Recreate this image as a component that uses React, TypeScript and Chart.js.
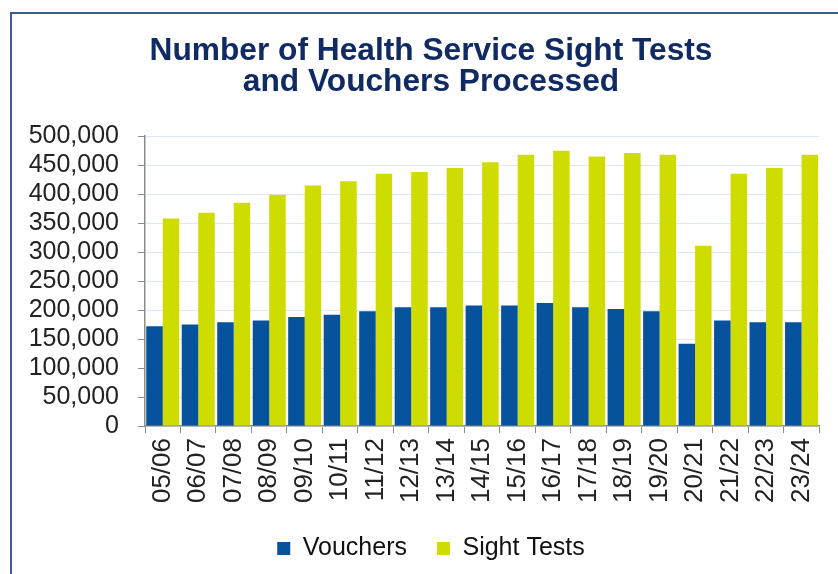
import React, { useEffect, useRef } from "react";
import { Chart, registerables } from "chart.js";

Chart.register(...registerables);

const categories = [
  "05/06", "06/07", "07/08", "08/09", "09/10", "10/11", "11/12", "12/13", "13/14", "14/15",
  "15/16", "16/17", "17/18", "18/19", "19/20", "20/21", "21/22", "22/23", "23/24",
];

const vouchers = [
  172000, 175000, 179000, 182000, 188000, 192000, 198000, 205000, 205000, 208000,
  208000, 212000, 205000, 202000, 198000, 142000, 182000, 179000, 179000,
];

const sightTests = [
  358000, 368000, 385000, 399000, 415000, 422000, 435000, 438000, 445000, 455000,
  468000, 475000, 465000, 471000, 468000, 311000, 435000, 445000, 468000,
];

const titleLines = ["Number of Health Service Sight Tests", "and Vouchers Processed"];
const seriesNames = ["Vouchers", "Sight Tests"];

export default function App() {
  const ref = useRef<HTMLCanvasElement | null>(null);

  useEffect(() => {
    if (!ref.current) return;
    const font = "'Liberation Sans', Arial, sans-serif";
    const chart = new Chart(ref.current, {
      type: "bar",
      data: {
        labels: categories,
        datasets: [
          {
            label: seriesNames[0],
            data: vouchers,
            backgroundColor: "#06529c",
            categoryPercentage: 0.93,
            barPercentage: 1,
          },
          {
            label: seriesNames[1],
            data: sightTests,
            backgroundColor: "#cfdc00",
            categoryPercentage: 0.93,
            barPercentage: 1,
          },
        ],
      },
      options: {
        responsive: false,
        animation: false,
        layout: { padding: { left: 24, right: 0, top: 0, bottom: 0 } },
        plugins: {
          title: {
            display: true,
            text: titleLines,
            color: "#102a63",
            font: { family: font, size: 31.7, weight: "bold", lineHeight: 0.98 },
            padding: { top: 36, bottom: 38 },
          },
          legend: {
            position: "bottom",
            labels: {
              color: "#111111",
              font: { family: font, size: 25 },
              boxWidth: 13,
              boxHeight: 13,
              padding: 30,
            },
          },
          tooltip: { enabled: false },
        },
        scales: {
          x: {
            afterFit: (scale: any) => {
              scale.height = 80;
            },
            grid: {
              drawOnChartArea: false,
              drawTicks: true,
              tickLength: 7,
              tickColor: "#8c8c8c",
              offset: true,
            },
            border: { color: "#8c8c8c", width: 1.5 },
            ticks: {
              color: "#222222",
              font: { family: font, size: 26 },
              maxRotation: 90,
              minRotation: 90,
              padding: 5,
              autoSkip: false,
            },
          },
          y: {
            min: 0,
            max: 500000,
            afterFit: (scale: any) => {
              scale.width = 121;
            },
            grid: {
              color: "#dfe7f2",
              tickColor: "#8c8c8c",
              tickLength: 7,
            },
            border: { color: "#8c8c8c", width: 1.5 },
            ticks: {
              stepSize: 50000,
              autoSkip: false,
              color: "#222222",
              font: { family: font, size: 25 },
              padding: 19,
              callback: (v: any) => Number(v).toLocaleString("en-US"),
            },
          },
          y2: {
            position: "right",
            display: true,
            afterFit: (scale: any) => {
              scale.width = 9;
            },
            grid: { display: false, drawTicks: false },
            border: { display: false },
            ticks: { display: false },
          },
        },
      },
    });
    return () => chart.destroy();
  }, []);

  return (
    <div
      style={{
        position: "fixed",
        left: 0,
        top: 0,
        width: 838,
        height: 574,
        overflow: "hidden",
        background: "#ffffff",
      }}
    >
      <canvas
        ref={ref}
        width={838}
        height={571}
        style={{ position: "absolute", left: 0, top: 0, width: 838, height: 571 }}
      />
      <div
        style={{
          position: "absolute",
          left: 10,
          top: 12,
          width: 900,
          height: 700,
          borderLeft: "2px solid #3b5b92",
          borderTop: "2px solid #3b5b92",
          pointerEvents: "none",
        }}
      />
    </div>
  );
}
